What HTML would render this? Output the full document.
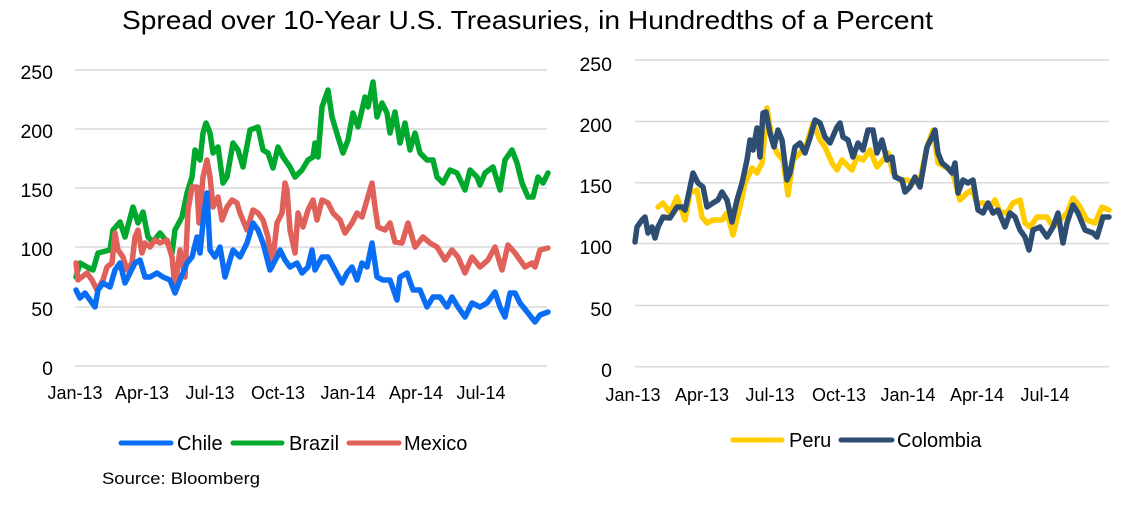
<!DOCTYPE html>
<html><head><meta charset="utf-8"><style>
html,body{margin:0;padding:0;background:#fff;}
svg{display:block;}
text{font-family:"Liberation Sans",sans-serif;fill:#000;}
</style></head><body>
<svg width="1138" height="513" viewBox="0 0 1138 513" xmlns="http://www.w3.org/2000/svg">
<text x="122" y="29" font-size="26" textLength="811" lengthAdjust="spacingAndGlyphs">Spread over 10-Year U.S. Treasuries, in Hundredths of a Percent</text>

<!-- Left chart grid -->
<g stroke="#D9D9D9" stroke-width="1.5">
<line x1="75" y1="70" x2="547" y2="70"/>
<line x1="75" y1="129" x2="547" y2="129"/>
<line x1="75" y1="188" x2="547" y2="188"/>
<line x1="75" y1="247" x2="547" y2="247"/>
<line x1="75" y1="307" x2="547" y2="307"/>
<line x1="75" y1="366" x2="547" y2="366"/>
</g>
<g font-size="19.5" text-anchor="end">
<text x="53" y="79">250</text>
<text x="53" y="138">200</text>
<text x="53" y="197">150</text>
<text x="53" y="256">100</text>
<text x="53" y="316">50</text>
<text x="53" y="375">0</text>
</g>
<g font-size="18" text-anchor="middle">
<text x="75" y="399">Jan-13</text>
<text x="142" y="399">Apr-13</text>
<text x="210" y="399">Jul-13</text>
<text x="278" y="399">Oct-13</text>
<text x="348" y="399">Jan-14</text>
<text x="416" y="399">Apr-14</text>
<text x="481" y="399">Jul-14</text>
</g>

<g fill="none" stroke-width="5.5" stroke-linejoin="round" stroke-linecap="round">
<polyline stroke="#00A82D" points="76,277 80,263 87,267 93,270 98,253 110,250 113,230 120,222 125,237 133,207 138,223 143,212 148,237 153,242 160,233 167,242 172,253 175,230 182,217 187,193 192,177 195,150 200,160 203,133 206,123 210,133 213,153 218,147 223,183 227,177 233,143 238,150 243,167 250,130 258,127 263,150 268,153 273,168 278,147 283,157 290,167 295,177 302,170 308,160 313,157 315,143 318,157 322,107 328,90 332,117 338,137 343,153 348,140 353,113 358,127 365,97 368,107 373,82 377,117 382,103 387,113 390,133 395,112 400,143 405,123 410,150 415,133 420,153 427,160 433,160 437,177 443,183 450,170 457,173 465,190 470,170 477,177 480,185 485,173 493,167 500,190 505,160 512,150 517,163 522,183 528,197 533,197 538,177 543,183 548,173"/>
<polyline stroke="#E0605A" points="76,263 78,280 87,273 92,280 97,290 103,280 107,267 112,263 115,233 118,250 123,257 127,270 132,263 135,237 138,230 142,253 145,243 150,247 155,240 160,243 167,240 172,257 175,287 180,250 185,277 188,210 192,187 197,187 199,223 203,177 207,160 210,177 213,207 218,197 222,220 227,207 232,200 237,203 240,213 247,230 253,210 258,213 263,220 268,237 272,267 277,223 282,213 285,183 287,190 290,230 295,253 298,213 303,227 308,210 313,200 317,220 322,200 328,203 333,213 340,220 345,233 352,223 357,213 362,217 367,200 372,183 375,207 378,227 385,230 390,223 395,242 402,243 408,223 415,247 423,237 430,243 437,247 445,260 452,250 458,257 465,273 472,257 480,267 488,260 495,247 502,270 508,245 515,253 520,260 525,267 532,263 535,267 540,250 548,248"/>
<polyline stroke="#0A6EF5" points="76,290 80,298 85,293 90,300 95,307 98,290 103,283 110,287 115,270 120,263 125,283 130,273 135,263 140,260 145,277 150,277 157,273 163,277 170,280 175,293 180,280 187,263 192,257 197,237 200,253 204,213 207,193 210,250 215,257 220,247 225,277 230,260 233,250 240,257 247,243 253,223 258,230 263,243 270,270 277,257 280,250 285,260 290,267 297,263 302,273 308,267 312,250 315,270 322,257 328,257 335,270 342,283 347,273 352,267 357,280 362,263 367,267 372,243 377,277 383,280 390,280 397,300 400,277 407,273 413,290 420,290 427,307 433,297 440,297 447,307 452,297 458,307 465,317 472,303 480,307 487,303 495,292 500,307 505,317 510,293 515,293 520,303 528,313 535,322 540,315 548,312"/>
</g>

<!-- Left legend -->
<g stroke-width="5" stroke-linecap="round">
<line x1="121" y1="443" x2="171" y2="443" stroke="#0A6EF5"/>
<line x1="233" y1="443" x2="282" y2="443" stroke="#00A82D"/>
<line x1="349" y1="443" x2="399" y2="443" stroke="#E0605A"/>
</g>
<g font-size="20">
<text x="177" y="450">Chile</text>
<text x="289" y="450">Brazil</text>
<text x="404" y="450">Mexico</text>
</g>
<text x="102" y="484" font-size="17" textLength="158" lengthAdjust="spacingAndGlyphs">Source: Bloomberg</text>

<!-- Right chart grid -->
<g stroke="#D9D9D9" stroke-width="1.5">
<line x1="635" y1="60" x2="1109" y2="60"/>
<line x1="635" y1="121.5" x2="1109" y2="121.5"/>
<line x1="635" y1="182.7" x2="1109" y2="182.7"/>
<line x1="635" y1="243.5" x2="1109" y2="243.5"/>
<line x1="635" y1="305.5" x2="1109" y2="305.5"/>
<line x1="635" y1="366.7" x2="1109" y2="366.7"/>
</g>
<g font-size="19.5" text-anchor="end">
<text x="612" y="71">250</text>
<text x="612" y="132">200</text>
<text x="612" y="193">150</text>
<text x="612" y="254">100</text>
<text x="612" y="316">50</text>
<text x="612" y="377">0</text>
</g>
<g font-size="18" text-anchor="middle">
<text x="633" y="401">Jan-13</text>
<text x="702" y="401">Apr-13</text>
<text x="770" y="401">Jul-13</text>
<text x="839" y="401">Oct-13</text>
<text x="908" y="401">Jan-14</text>
<text x="977" y="401">Apr-14</text>
<text x="1045" y="401">Jul-14</text>
</g>

<g fill="none" stroke-width="5.5" stroke-linejoin="round" stroke-linecap="round">
<polyline stroke="#FFCC00" points="658,207 663,203 670,213 677,197 685,220 690,193 697,190 702,217 707,223 713,220 722,220 727,213 733,235 740,207 745,183 752,168 757,173 762,163 767,108 772,140 777,153 783,160 788,195 793,160 800,153 807,143 813,123 820,140 825,147 832,163 837,170 842,160 845,163 852,170 857,157 863,160 870,150 877,167 883,160 888,153 893,173 900,180 907,180 913,183 920,180 927,147 933,130 938,163 945,167 952,170 960,200 967,193 972,190 977,203 983,203 990,207 995,200 1000,212 1007,213 1013,203 1020,200 1025,223 1030,227 1037,217 1047,217 1053,227 1060,220 1067,213 1073,198 1080,207 1087,220 1095,223 1102,207 1109,210"/>
<polyline stroke="#2D4E72" points="635,242 637,227 642,220 645,217 648,233 652,227 655,238 658,227 663,217 670,218 677,207 682,207 685,210 688,197 693,173 698,183 703,187 707,207 713,203 718,200 722,192 727,200 732,222 737,200 742,183 747,160 750,140 753,150 757,128 760,157 763,113 766,112 770,133 774,147 778,130 782,140 787,180 790,173 795,147 800,143 805,153 810,138 815,120 820,123 825,137 830,143 837,127 840,123 843,137 848,140 853,157 858,143 863,150 868,130 873,130 877,153 882,140 887,160 892,157 895,177 902,180 905,192 910,187 915,177 920,187 923,170 927,147 932,137 935,130 938,153 942,163 947,167 952,173 955,163 958,193 963,180 968,183 973,180 978,210 983,213 988,203 993,213 998,210 1005,227 1010,213 1015,217 1020,230 1025,237 1029,250 1033,230 1040,227 1047,237 1053,227 1058,213 1063,243 1067,223 1073,205 1078,213 1085,230 1093,233 1097,237 1103,217 1109,217"/>
</g>

<!-- Right legend -->
<g stroke-width="5" stroke-linecap="round">
<line x1="733" y1="440" x2="782" y2="440" stroke="#FFCC00"/>
<line x1="841" y1="440" x2="892" y2="440" stroke="#2D4E72"/>
</g>
<g font-size="20">
<text x="789" y="447">Peru</text>
<text x="897" y="447">Colombia</text>
</g>
</svg>
</body></html>
